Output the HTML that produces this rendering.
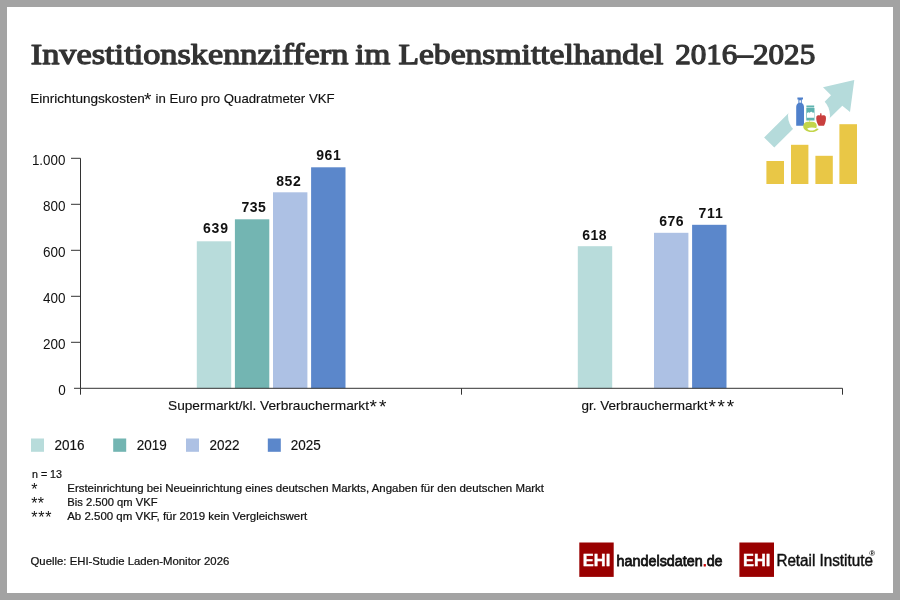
<!DOCTYPE html>
<html lang="de">
<head>
<meta charset="utf-8">
<title>Investitionskennziffern im Lebensmittelhandel 2016–2025</title>
<style>
  html, body { margin: 0; padding: 0; }
  body { width: 900px; height: 600px; overflow: hidden; background: #a3a3a3; font-family: "Liberation Sans", sans-serif; }
  #frame { position: absolute; left: 7px; top: 7px; width: 886px; height: 586px; background: #ffffff; }
  svg { position: absolute; left: 0; top: 0; font-family: "Liberation Sans", sans-serif; will-change: transform; }
  .ttl { font-family: "Liberation Serif", serif; font-weight: normal; font-size: 29px; fill: #333333; stroke: #333333; stroke-width: 1.25px; stroke-linejoin: round; }
  .sub { font-size: 13.3px; fill: #111111; stroke:#111111; stroke-width:0.15px; }
  .yl  { font-size: 14px; fill: #111111; }
  .vl  { font-size: 14px; font-weight: bold; fill: #111111; }
  .cl  { font-size: 13.6px; fill: #111111; stroke:#111111; stroke-width:0.15px; }
  .ast { font-size: 19px; fill: #111111; }
  .lg  { font-size: 13.8px; fill: #111111; stroke:#111111; stroke-width:0.15px; }
  .fn  { font-size: 10.9px; fill: #111111; stroke:#111111; stroke-width:0.22px; }
  .fa  { font-size: 16px; fill: #111111; }
</style>
</head>
<body>
<div id="frame"></div>

<svg id="chart" width="900" height="600" viewBox="0 0 900 600">
  <!-- title -->
  <g class="ttl">
    <text x="30.8" y="63.8" textLength="317.5" lengthAdjust="spacingAndGlyphs">Investitionskennziffern</text>
    <text x="355.3" y="63.8" textLength="35" lengthAdjust="spacingAndGlyphs">im</text>
    <text x="398.4" y="63.8" textLength="265" lengthAdjust="spacingAndGlyphs">Lebensmittelhandel</text>
    <text x="675.2" y="63.8" textLength="140" lengthAdjust="spacingAndGlyphs">2016–2025</text>
  </g>
  <text class="sub" x="30.2" y="102.7" textLength="114.6" lengthAdjust="spacingAndGlyphs">Einrichtungskosten</text>
  <text class="ast" x="144.1" y="106.3">*</text>
  <text class="sub" x="155.6" y="102.7" textLength="179" lengthAdjust="spacingAndGlyphs">in Euro pro Quadratmeter VKF</text>

  <!-- bars group 1 -->
  <rect x="196.8" y="241.3" width="34.4" height="147" fill="#b8dcdb"/>
  <rect x="234.9" y="219.3" width="34.4" height="169" fill="#73b5b2"/>
  <rect x="273" y="192.3" width="34.4" height="196" fill="#adc1e4"/>
  <rect x="311.1" y="167.3" width="34.4" height="221" fill="#5b87cb"/>
  <!-- bars group 2 -->
  <rect x="577.8" y="246.2" width="34.4" height="142.1" fill="#b8dcdb"/>
  <rect x="654" y="232.8" width="34.4" height="155.5" fill="#adc1e4"/>
  <rect x="692.1" y="224.8" width="34.4" height="163.5" fill="#5b87cb"/>

  <!-- axes -->
  <g stroke="#333333" stroke-width="1" fill="none">
    <path d="M80.5 158.3V388.3H842.5"/>
    <path d="M71 158.3H80.5M71 204.3H80.5M71 250.3H80.5M71 296.3H80.5M71 342.3H80.5M74 388.3H80.5"/>
    <path d="M80.5 388.3V394.7M461.5 388.3V394.7M842.5 388.3V394.7"/>
  </g>

  <!-- y labels -->
  <g class="yl">
    <text x="31.9" y="165" textLength="33.5" lengthAdjust="spacingAndGlyphs">1.000</text>
    <text x="42.9" y="211" textLength="22.5" lengthAdjust="spacingAndGlyphs">800</text>
    <text x="42.9" y="257" textLength="22.5" lengthAdjust="spacingAndGlyphs">600</text>
    <text x="42.9" y="303" textLength="22.5" lengthAdjust="spacingAndGlyphs">400</text>
    <text x="42.9" y="349" textLength="22.5" lengthAdjust="spacingAndGlyphs">200</text>
    <text x="58.2" y="395" textLength="7.5" lengthAdjust="spacingAndGlyphs">0</text>
  </g>

  <!-- value labels -->
  <g class="vl">
    <text x="203" y="233.3" textLength="25" lengthAdjust="spacing">639</text>
    <text x="241.5" y="211.9" textLength="24.2" lengthAdjust="spacing">735</text>
    <text x="276.3" y="186" textLength="24.4" lengthAdjust="spacing">852</text>
    <text x="316.2" y="160.1" textLength="24.6" lengthAdjust="spacing">961</text>
    <text x="582.3" y="240" textLength="24.2" lengthAdjust="spacing">618</text>
    <text x="659.3" y="225.8" textLength="24.2" lengthAdjust="spacing">676</text>
    <text x="698.4" y="218" textLength="24.3" lengthAdjust="spacing">711</text>
  </g>

  <!-- category labels -->
  <text class="cl" x="168" y="409.8" textLength="201" lengthAdjust="spacingAndGlyphs">Supermarkt/kl. Verbrauchermarkt</text>
  <text class="ast" x="369.6" y="413.2" textLength="16.8" lengthAdjust="spacing">**</text>
  <text class="cl" x="581.6" y="409.8" textLength="126" lengthAdjust="spacingAndGlyphs">gr. Verbrauchermarkt</text>
  <text class="ast" x="708.4" y="413.2" textLength="25.8" lengthAdjust="spacing">***</text>

  <!-- legend -->
  <rect x="31" y="438.5" width="13" height="13.3" fill="#b8dcdb"/>
  <rect x="113.2" y="438.5" width="13" height="13.3" fill="#73b5b2"/>
  <rect x="186" y="438.5" width="13" height="13.3" fill="#adc1e4"/>
  <rect x="267.8" y="438.5" width="13" height="13.3" fill="#5b87cb"/>
  <g class="lg">
    <text x="54.4" y="449.7" textLength="30" lengthAdjust="spacingAndGlyphs">2016</text>
    <text x="136.7" y="449.7" textLength="30" lengthAdjust="spacingAndGlyphs">2019</text>
    <text x="209.4" y="449.7" textLength="30" lengthAdjust="spacingAndGlyphs">2022</text>
    <text x="290.8" y="449.7" textLength="30" lengthAdjust="spacingAndGlyphs">2025</text>
  </g>

  <!-- footnotes -->
  <g class="fn">
    <text x="32" y="478" textLength="30" lengthAdjust="spacingAndGlyphs">n = 13</text>
    <text x="67.3" y="492" textLength="476.7" lengthAdjust="spacingAndGlyphs">Ersteinrichtung bei Neueinrichtung eines deutschen Markts, Angaben für den deutschen Markt</text>
    <text x="67.3" y="506" textLength="90.2" lengthAdjust="spacingAndGlyphs">Bis 2.500 qm VKF</text>
    <text x="67.2" y="520" textLength="240" lengthAdjust="spacingAndGlyphs">Ab 2.500 qm VKF, für 2019 kein Vergleichswert</text>
    <text x="30.5" y="564.8" textLength="198.8" lengthAdjust="spacingAndGlyphs">Quelle: EHI-Studie Laden-Monitor 2026</text>
  </g>
  <g class="fa">
    <text x="31.3" y="494.8" textLength="6.4" lengthAdjust="spacing">*</text>
    <text x="31.3" y="508.8" textLength="12.8" lengthAdjust="spacing">**</text>
    <text x="31.3" y="522.8" textLength="20.2" lengthAdjust="spacing">***</text>
  </g>

  <!-- icon -->
  <g id="icon">
    <g fill="#e9c746">
      <rect x="766.4" y="161" width="17.6" height="23"/>
      <rect x="791" y="144.8" width="17.4" height="39.2"/>
      <rect x="815.4" y="155.8" width="17.4" height="28.2"/>
      <rect x="839.4" y="124.2" width="17.6" height="59.8"/>
    </g>
    <g fill="#b5dbdb">
      <path d="M764.1 137.6L795 106.7L800 121.9L774.3 147.6Z"/>
      <path d="M854.3 80L823 87.3L831 95.3L818 108.6L826 121.8L842.3 105.7L850 112Z"/>
    </g>
    <circle cx="809" cy="115.5" r="21" fill="#ffffff"/>
    <!-- bottle -->
    <path fill="#4f80cb" d="M797.4 97.4h5.6v2.2h-1.2v3.4c1.6 1 2.2 2.4 2.2 4.2v18.6h-7.8v-18.6c0-1.8.6-3.200 2.200-4.200v-3.400h-1z"/>
    <rect x="799.4" y="100.300" width="1.500" height="2.400" fill="#ffffff"/>
    <!-- jar -->
    <path fill="#5fb3b0" d="M806.4 105.400h7.800v2h-7.800zM806.300 108h8.200v12.400h-8.200z"/>
    <path fill="#ffffff" d="M806.900 113.200c1-1.200 2-1.200 2.800-.4c1-1.400 2.200-1.400 3 0c.6-.6 1.200-.4 1.500.2v4.800h-7.300z"/>
    <!-- pepper -->
    <path fill="#c93f3e" d="M820.300 113.300l.9-.2l.6 2.600c1.600-.8 3.200-.4 4 .8c.6 2.600-.2 6.400-1.800 9.200h-5.400c-1.800-2.600-2.800-6.400-2.200-9.200c.8-1.200 2.400-1.600 3.600-.9z"/>
    <!-- apple -->
    <path fill="#c3d54a" d="M809.400 119.800h.8v2.100c3.200-.8 5.800.2 6.400 2.800c.3 1.400 0 2.800-.6 3.800c1.400-.2 2.400 0 2.800.4c-1.400 2-4.200 3.200-7.400 3.200c-4.800 0-8.200-2.600-8.200-5.800c0-3 2.600-5.200 6.200-4.400z"/>
    <path fill="#ffffff" d="M807.200 128.400c2.400-1 6.200-1 9.600-.2c-1.400 1.600-3.400 2.400-5.400 2.400c-1.800 0-3.400-.8-4.200-2.200z"/>
  </g>

  <!-- logos -->
  <rect x="579.3" y="542.5" width="34.400" height="34.400" fill="#990000"/>
  <text x="582.8" y="565.9" textLength="27.400" lengthAdjust="spacingAndGlyphs" style="font-size:17.2px;font-weight:bold;fill:#ffffff;stroke:#ffffff;stroke-width:0.4px">EHI</text>
  <text x="616.600" y="565.9" textLength="106" lengthAdjust="spacingAndGlyphs" style="font-size:15.5px;fill:#111111;stroke:#111111;stroke-width:0.8px">handelsdaten<tspan fill="#cc0000" stroke="#cc0000">.</tspan>de</text>
  <rect x="739.400" y="542.5" width="34.600" height="34.400" fill="#990000"/>
  <text x="743" y="565.9" textLength="27.400" lengthAdjust="spacingAndGlyphs" style="font-size:17.2px;font-weight:bold;fill:#ffffff;stroke:#ffffff;stroke-width:0.4px">EHI</text>
  <text x="776.400" y="565.9" textLength="96.500" lengthAdjust="spacingAndGlyphs" style="font-size:16.7px;fill:#111111;stroke:#111111;stroke-width:0.45px">Retail Institute</text>
  <text x="869.3" y="556.2" style="font-size:8px;font-weight:bold;fill:#111111">®</text>
</svg>

</body>
</html>
